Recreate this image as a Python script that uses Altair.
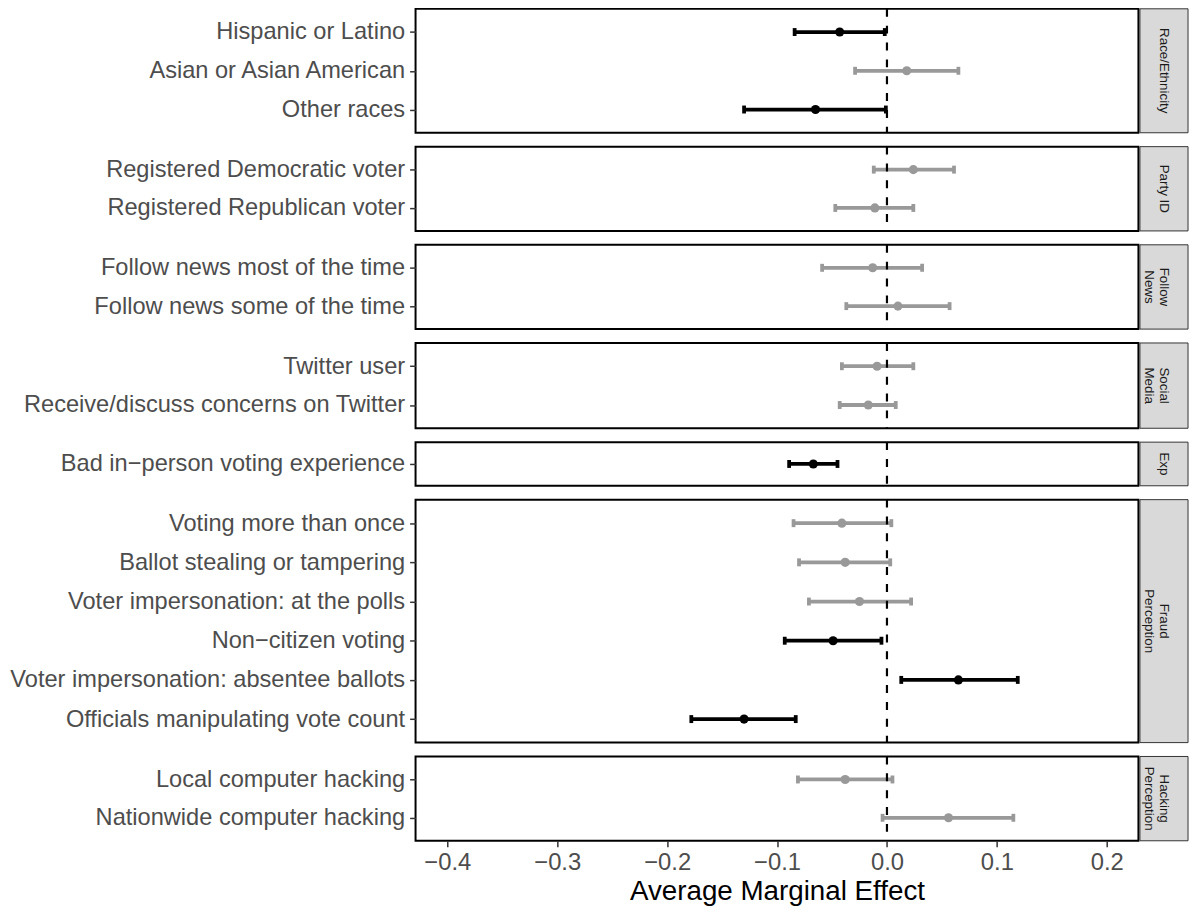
import altair as alt
import pandas as pd

# ---- data ----
groups = ["Race/Ethnicity", "Party ID", "Follow\nNews", "Social\nMedia", "Exp",
          "Fraud\nPerception", "Hacking\nPerception"]
group_heights = [125, 85, 85, 86, 44, 245, 85]

labels = [
    "Hispanic or Latino", "Asian or Asian American", "Other races",
    "Registered Democratic voter", "Registered Republican voter",
    "Follow news most of the time", "Follow news some of the time",
    "Twitter user", "Receive/discuss concerns on Twitter",
    "Bad in\u2212person voting experience",
    "Voting more than once", "Ballot stealing or tampering",
    "Voter impersonation: at the polls", "Non\u2212citizen voting",
    "Voter impersonation: absentee ballots", "Officials manipulating vote count",
    "Local computer hacking", "Nationwide computer hacking",
]
label_group = [0, 0, 0, 1, 1, 2, 2, 3, 3, 4, 5, 5, 5, 5, 5, 5, 6, 6]
estimate = [-0.043, 0.018, -0.065, 0.024, -0.011, -0.013, 0.010, -0.009, -0.017,
            -0.067, -0.041, -0.038, -0.025, -0.049, 0.065, -0.130, -0.038, 0.056]
lower = [-0.084, -0.029, -0.130, -0.012, -0.047, -0.059, -0.037, -0.041, -0.043,
         -0.089, -0.085, -0.080, -0.071, -0.093, 0.013, -0.178, -0.081, -0.004]
upper = [-0.002, 0.065, -0.001, 0.061, 0.024, 0.032, 0.057, 0.024, 0.008,
         -0.045, 0.004, 0.003, 0.022, -0.005, 0.119, -0.083, 0.005, 0.115]
significant = ["yes", "no", "yes", "no", "no", "no", "no", "no", "no",
               "yes", "no", "no", "no", "yes", "yes", "yes", "no", "no"]

x_ticks = [-0.4, -0.3, -0.2, -0.1, 0.0, 0.1, 0.2]
x_domain = [-0.4289, 0.2288]
zero_line = [0.0]

df = pd.DataFrame({
    "label": labels,
    "group": [groups[i] for i in label_group],
    "est": estimate,
    "lo": lower,
    "hi": upper,
    "sig": significant,
})

W = 729
FONT = "Liberation Sans"

color = alt.Color("sig:N", scale=alt.Scale(domain=["yes", "no"], range=["#000000", "#999999"]),
                  legend=None)


def panel(gi, bottom):
    g = groups[gi]
    h = group_heights[gi]
    sub = df[df["group"] == g]
    order = list(sub["label"])
    y = alt.Y("label:N", sort=order, scale=alt.Scale(type="point", padding=0.6),
              axis=alt.Axis(title=None, labelFontSize=23.8, labelColor="#4d4d4d",
                            labelFont=FONT, tickColor="#333333", tickSize=6, tickWidth=1.5,
                            domain=False, grid=False, labelPadding=5, labelLimit=600))
    if bottom:
        xaxis = alt.Axis(values=x_ticks, format=".1f", labelFontSize=24, labelColor="#4d4d4d",
                         labelFont=FONT, tickColor="#333333", tickSize=6, tickWidth=1.5,
                         domain=False, grid=False, labelPadding=4,
                         title="Average Marginal Effect", titleFontSize=28,
                         titleFont=FONT, titleColor="#000000", titleFontWeight="normal",
                         titlePadding=3)
    else:
        xaxis = None
    xs = alt.Scale(domain=x_domain, nice=False, zero=False)
    base = alt.Chart(sub)
    rule = base.mark_rule(strokeWidth=3.8).encode(
        x=alt.X("lo:Q", scale=xs, axis=xaxis), x2="hi:Q", y=y, color=color)
    cap_lo = base.mark_tick(size=8, thickness=3.8, opacity=1).encode(
        x=alt.X("lo:Q", scale=xs), y=y, color=color)
    cap_hi = base.mark_tick(size=8, thickness=3.8, opacity=1).encode(
        x=alt.X("hi:Q", scale=xs), y=y, color=color)
    pts = base.mark_circle(size=85, opacity=1).encode(
        x=alt.X("est:Q", scale=xs), y=y, color=color)
    zero = alt.Chart(pd.DataFrame({"z": zero_line})).mark_rule(
        strokeDash=[8, 9], strokeWidth=2.2, color="#000000").encode(
        x=alt.X("z:Q", scale=xs))
    sdf = pd.DataFrame({"s": [g]})
    strip_rect = alt.Chart(sdf).mark_rect(fill="#D9D9D9", stroke="#333333", strokeWidth=1).encode(
        x=alt.value(W + 1.5), x2=alt.value(W + 50), y=alt.value(0), y2=alt.value(h))
    strip_text = alt.Chart(sdf).mark_text(
        angle=90, fontSize=13.5, font=FONT, color="#1a1a1a", lineBreak="\n",
        align="center", baseline="middle").encode(
        x=alt.value(W + 26), y=alt.value(h / 2), text="s:N")
    return alt.layer(rule, cap_lo, cap_hi, pts, zero, strip_rect, strip_text).properties(
        width=W, height=h)


panels = [panel(i, i == len(groups) - 1) for i in range(len(groups))]

chart = alt.vconcat(*panels, spacing=14, bounds="flush").resolve_scale(
    x="independent", y="independent", color="shared"
).properties(
    padding={"left": 0, "top": -6, "right": 0, "bottom": 0},
    background="white",
).configure_view(
    stroke="#000000", strokeWidth=2
)

chart.save("out.html", embed_options={"renderer": "svg", "actions": False})
